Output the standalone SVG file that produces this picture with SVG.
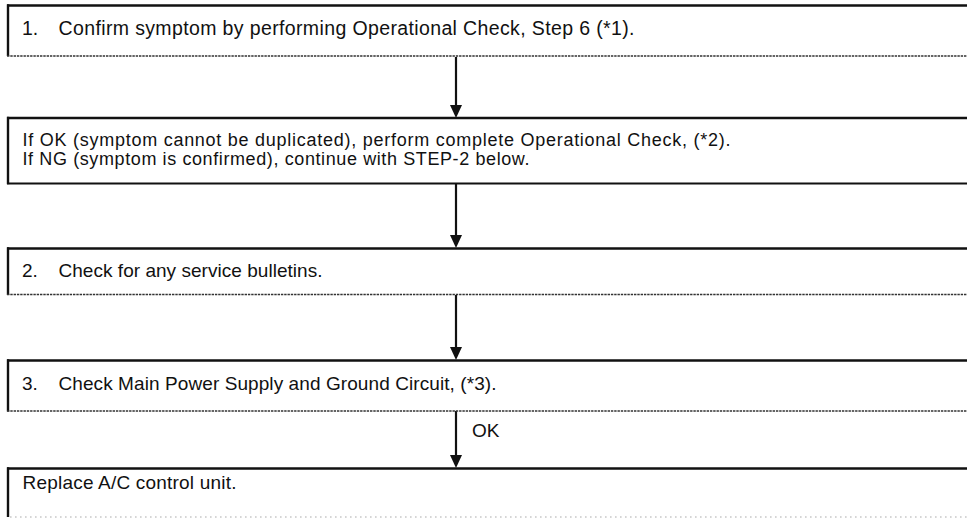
<svg xmlns="http://www.w3.org/2000/svg" width="967" height="518" viewBox="0 0 967 518">
<style>
.t{font-family:"Liberation Sans",Arial,Helvetica,sans-serif;font-size:19px;fill:#111}
.t2{font-size:18px}
.t1{font-size:19.5px}
.top{stroke:#111;stroke-width:2.4}
.side{stroke:#111;stroke-width:2.4}
.solid{stroke:#111;stroke-width:2.2}
.tick{stroke:#333;stroke-width:1.6;stroke-dasharray:2.4 0.9}
.dots{stroke:#c8c8c8;stroke-width:1.6;stroke-dasharray:1.6 3.4}
.conn{stroke:#111;stroke-width:2.2;fill:none}
.head{fill:#111}
</style>
<g id="connectors">
<line class="conn" x1="456" y1="57" x2="456" y2="106"/><path class="head" d="M450,105 L462,105 L456,118 Z"/>
<line class="conn" x1="456" y1="184" x2="456" y2="236"/><path class="head" d="M450,235 L462,235 L456,248 Z"/>
<line class="conn" x1="456" y1="295" x2="456" y2="348"/><path class="head" d="M450,347 L462,347 L456,360 Z"/>
<line class="conn" x1="456" y1="411" x2="456" y2="456"/><path class="head" d="M450,455 L462,455 L456,468 Z"/>
<text class="t" x="472" y="437">OK</text>
</g>
<g id="step1">
<line class="top" x1="7" y1="5.5" x2="967" y2="5.5"/>
<line class="side" x1="8" y1="4.3" x2="8" y2="56"/>
<line class="tick" x1="7" y1="56" x2="967" y2="56"/>
<text class="t t1" x="22" y="35">1.</text>
<text class="t t1" x="58.5" y="35" textLength="576" lengthAdjust="spacing">Confirm symptom by performing Operational Check, Step 6 (*1).</text>
</g>
<g id="check-result">
<line class="top" x1="7" y1="118" x2="967" y2="118"/>
<line class="side" x1="8" y1="116.8" x2="8" y2="184.2"/>
<line class="solid" x1="7" y1="183.5" x2="967" y2="183.5"/>
<text class="t t2" x="22.5" y="146" textLength="708" lengthAdjust="spacing">If OK (symptom cannot be duplicated), perform complete Operational Check, (*2).</text>
<text class="t t2" x="22.5" y="165" textLength="507" lengthAdjust="spacing">If NG (symptom is confirmed), continue with STEP-2 below.</text>
</g>
<g id="step2">
<line class="top" x1="7" y1="248.5" x2="967" y2="248.5"/>
<line class="side" x1="8" y1="247.3" x2="8" y2="295"/>
<line class="tick" x1="7" y1="294.5" x2="967" y2="294.5"/>
<text class="t" x="22" y="277">2.</text>
<text class="t" x="58.5" y="277" textLength="264" lengthAdjust="spacing">Check for any service bulletins.</text>
</g>
<g id="step3">
<line class="top" x1="7" y1="360.5" x2="967" y2="360.5"/>
<line class="side" x1="8" y1="359.3" x2="8" y2="411.5"/>
<line class="tick" x1="7" y1="411" x2="967" y2="411"/>
<text class="t" x="22" y="390">3.</text>
<text class="t" x="58.5" y="390" textLength="438" lengthAdjust="spacing">Check Main Power Supply and Ground Circuit, (*3).</text>
</g>
<g id="replace">
<line class="top" x1="7" y1="468.5" x2="967" y2="468.5"/>
<line class="side" x1="8" y1="467.3" x2="8" y2="517"/>
<line class="dots" x1="10" y1="517" x2="967" y2="517"/>
<text class="t" x="22.5" y="488.5" textLength="214" lengthAdjust="spacing">Replace A/C control unit.</text>
</g>
</svg>
